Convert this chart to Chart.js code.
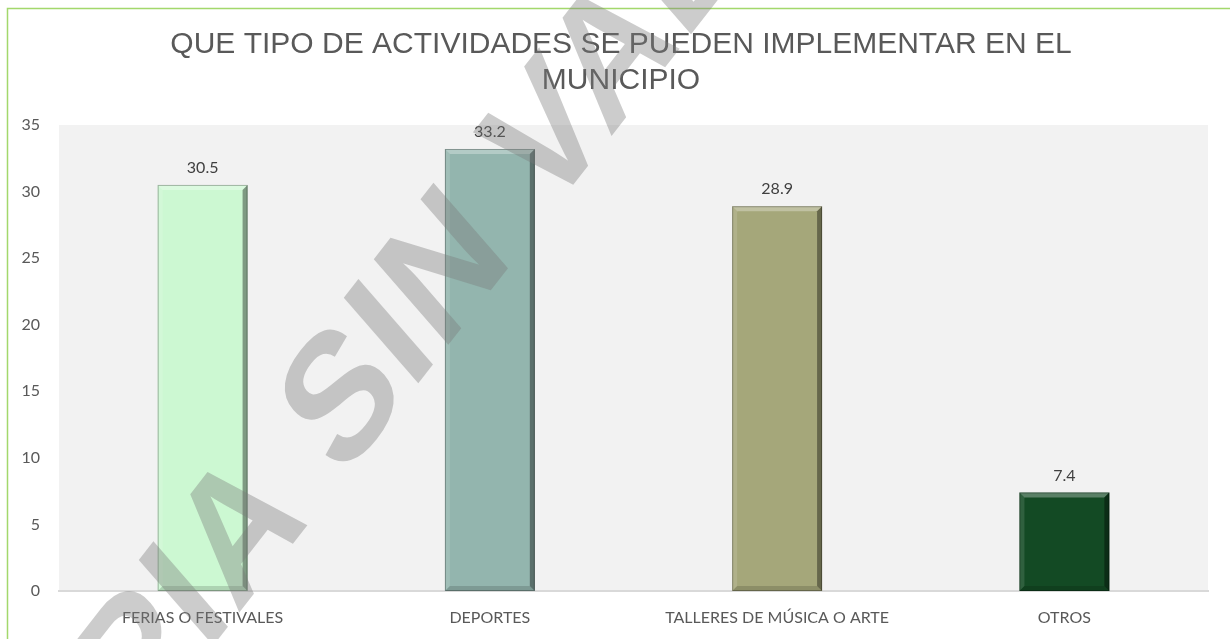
<!DOCTYPE html>
<html>
<head>
<meta charset="utf-8">
<script src="https://cdn.jsdelivr.net/npm/chart.js@4.4.0/dist/chart.umd.min.js"></script>
<style>
  html, body { margin: 0; padding: 0; background: #fff; }
  #wrap { position: relative; width: 1230px; height: 639px; }
</style>
</head>
<body>
<div id="wrap"><canvas id="actChart"></canvas></div>
<script>
// Data
const categories = ['FERIAS O FESTIVALES', 'DEPORTES', 'TALLERES DE MÚSICA O ARTE', 'OTROS'];
const values = [30.5, 33.2, 28.9, 7.4];
const barColors = ['#ccf8d2', '#93b5ae', '#a5a77a', '#134a24'];
const yTicks = [0, 5, 10, 15, 20, 25, 30, 35];
const titleLines = ['QUE TIPO DE ACTIVIDADES SE PUEDEN IMPLEMENTAR EN EL', 'MUNICIPIO'];
const watermark = 'COPIA SIN VALOR';

const labelFont = 'Lato, "Open Sans", sans-serif';

// frame, plot background and the two-line title (centred on the frame, not the canvas)
const backgroundPlugin = {
    id: 'bg',
    beforeDraw(chart) {
        const ctx = chart.ctx;
        const a = chart.chartArea;
        ctx.save();
        ctx.strokeStyle = '#a3d86c';
        ctx.lineWidth = 1.5;
        ctx.strokeRect(7.5, 8.5, 1400, 800);
        ctx.fillStyle = '#f2f2f2';
        ctx.fillRect(a.left, a.top, a.right - a.left, a.bottom - a.top);
        ctx.fillStyle = '#595959';
        ctx.font = '30px "Liberation Sans", Arial, sans-serif';
        ctx.textAlign = 'center';
        ctx.textBaseline = 'middle';
        titleLines.forEach((line, i) => ctx.fillText(line, 621, 45 + i * 36));
        ctx.restore();
    }
};

// bevel look on the bars + value labels
const bevelPlugin = {
    id: 'bevel',
    afterDatasetsDraw(chart) {
        const ctx = chart.ctx;
        const meta = chart.getDatasetMeta(0);
        meta.data.forEach((bar, i) => {
            const l = bar.x - bar.width / 2, r = bar.x + bar.width / 2;
            const t = bar.y, b = bar.base;
            const s = 5;
            ctx.save();
            // top facet
            ctx.fillStyle = 'rgba(255,255,255,0.3)';
            ctx.beginPath();
            ctx.moveTo(l, t); ctx.lineTo(r, t); ctx.lineTo(r - s, t + s); ctx.lineTo(l + s, t + s);
            ctx.fill();
            // left facet
            ctx.fillStyle = 'rgba(255,255,255,0.12)';
            ctx.beginPath();
            ctx.moveTo(l, t); ctx.lineTo(l + s, t + s); ctx.lineTo(l + s, b - s); ctx.lineTo(l, b);
            ctx.fill();
            // right facet
            ctx.fillStyle = 'rgba(0,0,0,0.38)';
            ctx.beginPath();
            ctx.moveTo(r, t); ctx.lineTo(r - s, t + s); ctx.lineTo(r - s, b - s); ctx.lineTo(r, b);
            ctx.fill();
            // bottom facet
            ctx.fillStyle = 'rgba(0,0,0,0.15)';
            ctx.beginPath();
            ctx.moveTo(l, b); ctx.lineTo(l + s, b - s); ctx.lineTo(r - s, b - s); ctx.lineTo(r, b);
            ctx.fill();
            // dark outline
            ctx.strokeStyle = 'rgba(0,0,0,0.28)';
            ctx.lineWidth = 1;
            ctx.strokeRect(l + 0.5, t + 0.5, r - l - 1, b - t - 1);
            // value label
            ctx.fillStyle = '#404040';
            ctx.font = '16px ' + labelFont;
            ctx.textAlign = 'center';
            ctx.textBaseline = 'middle';
            ctx.fillText(values[i].toFixed(1), bar.x, t - 17);
            ctx.restore();
        });
    }
};

// diagonal watermark on top of everything
const watermarkPlugin = {
    id: 'watermark',
    afterDraw(chart) {
        const ctx = chart.ctx;
        ctx.save();
        ctx.font = 'bold 165px "Liberation Sans", Arial, sans-serif';
        ctx.letterSpacing = '3px';
        const pre = ctx.measureText('COPIA ').width;
        const sW = ctx.measureText('S').width;
        const base = 52 * Math.PI / 180, up = 49 * Math.PI / 180;
        ctx.transform(Math.cos(base), -Math.sin(base), Math.cos(up), Math.sin(up), 338, 392);
        ctx.fillStyle = 'rgba(120,120,120,0.38)';
        ctx.textBaseline = 'alphabetic';
        ctx.textAlign = 'left';
        ctx.fillText(watermark, -pre - sW / 2, 59);
        ctx.restore();
    }
};

new Chart(document.getElementById('actChart'), {
    type: 'bar',
    data: {
        labels: categories,
        datasets: [{
            data: values,
            backgroundColor: barColors,
            borderWidth: 0,
            categoryPercentage: 1,
            barPercentage: 0.313
        }]
    },
    options: {
        responsive: true,
        maintainAspectRatio: false,
        animation: false,
        layout: { padding: { top: 125, right: 22, left: 0, bottom: 0 } },
        plugins: {
            legend: { display: false },
            tooltip: { enabled: false },
            title: { display: false }
        },
        scales: {
            x: {
                grid: { display: false, drawTicks: false },
                border: { display: true, color: '#d9d9d9', width: 2 },
                ticks: { color: '#595959', font: { family: labelFont, size: 16 }, padding: 17, maxRotation: 0 },
                afterFit(scale) { scale.height = 48; }
            },
            y: {
                min: 0,
                max: 35,
                grid: { display: false, drawTicks: false },
                border: { display: false },
                afterBuildTicks(scale) { scale.ticks = yTicks.map(v => ({ value: v })); },
                ticks: { color: '#595959', font: { family: labelFont, size: 16 }, padding: 19 },
                afterFit(scale) { scale.width = 59; }
            }
        }
    },
    plugins: [backgroundPlugin, bevelPlugin, watermarkPlugin]
});
</script>
</body>
</html>
